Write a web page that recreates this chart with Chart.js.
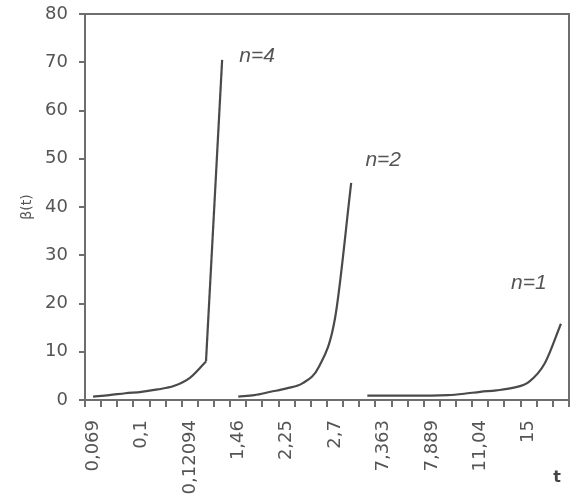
<!DOCTYPE html>
<html>
<head>
<meta charset="utf-8">
<script src="https://cdn.jsdelivr.net/npm/chart.js@4.4.0/dist/chart.umd.min.js"></script>
<style>
  html, body { margin: 0; padding: 0; background: #fff; }
  #wrap { width: 574px; height: 498px; position: relative; }
</style>
</head>
<body>
<div id="wrap"><canvas id="grafico"></canvas></div>
<script>
// categorias do eixo t (so uma em cada tres tem rotulo)
const categorias = [
  '0,069', '', '', '0,1', '', '', '0,12094', '', '',
  '1,46', '', '', '2,25', '', '', '2,7', '', '',
  '7,363', '', '', '7,889', '', '', '11,04', '', '', '15', '', ''
];

// valores de beta(t)
const serieN4 = [0.7, 1.0, 1.4, 1.7, 2.2, 2.9, 4.6, 8.0, 70.5];
const serieN2 = [0.7, 1.0, 1.7, 2.4, 3.5, 6.9, 17, 45];
const serieN1 = [0.9, 0.9, 0.9, 0.9, 0.9, 1.0, 1.3, 1.7, 2.0, 2.5, 3.7, 7.6, 15.8];

const ticksY = [0, 10, 20, 30, 40, 50, 60, 70, 80];

// cada serie ocupa um trecho do eixo de categorias
function posiciona(valores, inicio) {
  const arr = new Array(categorias.length).fill(null);
  valores.forEach((v, i) => { arr[inicio + i] = v; });
  return arr;
}

const corLinha = '#4a4a4a';
const corEixo = '#6e6e6e';
const corTexto = '#555';
const fonte = '"DejaVu Sans", Verdana, sans-serif';

// moldura de cima e da direita
const moldura = {
  id: 'moldura',
  afterDraw(chart) {
    const { ctx, chartArea: a } = chart;
    ctx.save();
    ctx.strokeStyle = corEixo;
    ctx.lineWidth = 2;
    ctx.beginPath();
    ctx.moveTo(a.left, a.top);
    ctx.lineTo(a.right, a.top);
    ctx.lineTo(a.right, a.bottom);
    ctx.stroke();
    ctx.restore();
  }
};

// rotulos n=4, n=2, n=1 junto ao fim de cada curva
const rotulos = {
  id: 'rotulos',
  afterDatasetsDraw(chart, args, opts) {
    const { ctx } = chart;
    ctx.save();
    ctx.font = opts.font;
    ctx.fillStyle = corTexto;
    ctx.textAlign = 'center';
    ctx.textBaseline = 'middle';
    opts.itens.forEach(it => {
      const pts = chart.getDatasetMeta(it.ds).data.filter(p => !p.skip);
      const ult = pts[pts.length - 1];
      ctx.fillText(it.texto, ult.x + it.dx, ult.y + it.dy);
    });
    ctx.restore();
  }
};

const linha = {
  borderColor: corLinha,
  borderWidth: 2.2,
  pointRadius: 0,
  cubicInterpolationMode: 'monotone',
  spanGaps: false,
  fill: false
};

new Chart(document.getElementById('grafico'), {
  type: 'line',
  data: {
    labels: categorias,
    datasets: [
      // n=4: parte curva e subida final quase reta
      Object.assign({ label: 'n=4', data: posiciona(serieN4.slice(0, 8), 0) }, linha),
      Object.assign({ label: 'n=4', data: posiciona(serieN4.slice(7), 7) }, linha,
        { cubicInterpolationMode: 'default', tension: 0 }),
      Object.assign({ label: 'n=2', data: posiciona(serieN2, 9) }, linha),
      Object.assign({ label: 'n=1', data: posiciona(serieN1, 17) }, linha)
    ]
  },
  options: {
    responsive: true,
    maintainAspectRatio: false,
    animation: false,
    layout: { padding: { top: 14, right: 5, left: 0, bottom: 0 } },
    plugins: {
      legend: { display: false },
      tooltip: { enabled: false },
      rotulos: {
        font: 'italic 21px "Liberation Sans", Arial, sans-serif',
        itens: [
          { ds: 1, texto: 'n=4', dx: 35, dy: -4 },
          { ds: 2, texto: 'n=2', dx: 32, dy: -23 },
          { ds: 3, texto: 'n=1', dx: -32, dy: -41 }
        ]
      }
    },
    scales: {
      x: {
        offset: true,
        grid: {
          offset: true,
          drawOnChartArea: false,
          tickLength: 7,
          color: corEixo,
          lineWidth: 2
        },
        border: { display: true, color: corEixo, width: 2 },
        ticks: {
          autoSkip: false,
          maxRotation: 90,
          minRotation: 90,
          padding: 13,
          color: corTexto,
          font: { family: fonte, size: 18 }
        },
        title: {
          display: true,
          text: 't\u2002',
          align: 'end',
          color: '#444',
          padding: { top: 0, bottom: 11 },
          font: { family: fonte, size: 16, weight: 'bold' }
        },
        afterFit(scale) {
          scale.height = 98;
          scale.paddingLeft = 0;
          scale.paddingRight = 0;
        }
      },
      y: {
        min: 0,
        max: 80,
        afterBuildTicks(scale) { scale.ticks = ticksY.map(v => ({ value: v })); },
        grid: {
          drawOnChartArea: false,
          tickLength: 6,
          color: corEixo,
          lineWidth: 2
        },
        border: { display: true, color: corEixo, width: 2 },
        ticks: {
          padding: 11,
          color: corTexto,
          font: { family: fonte, size: 18 }
        },
        title: {
          display: true,
          text: 'β(t)',
          color: corTexto,
          padding: { top: 19, bottom: 0 },
          font: { family: fonte, size: 14 }
        },
        afterFit(scale) {
          scale.width = 85;
          scale.paddingTop = 0;
          scale.paddingBottom = 0;
        }
      }
    }
  },
  plugins: [moldura, rotulos]
});
</script>
</body>
</html>
